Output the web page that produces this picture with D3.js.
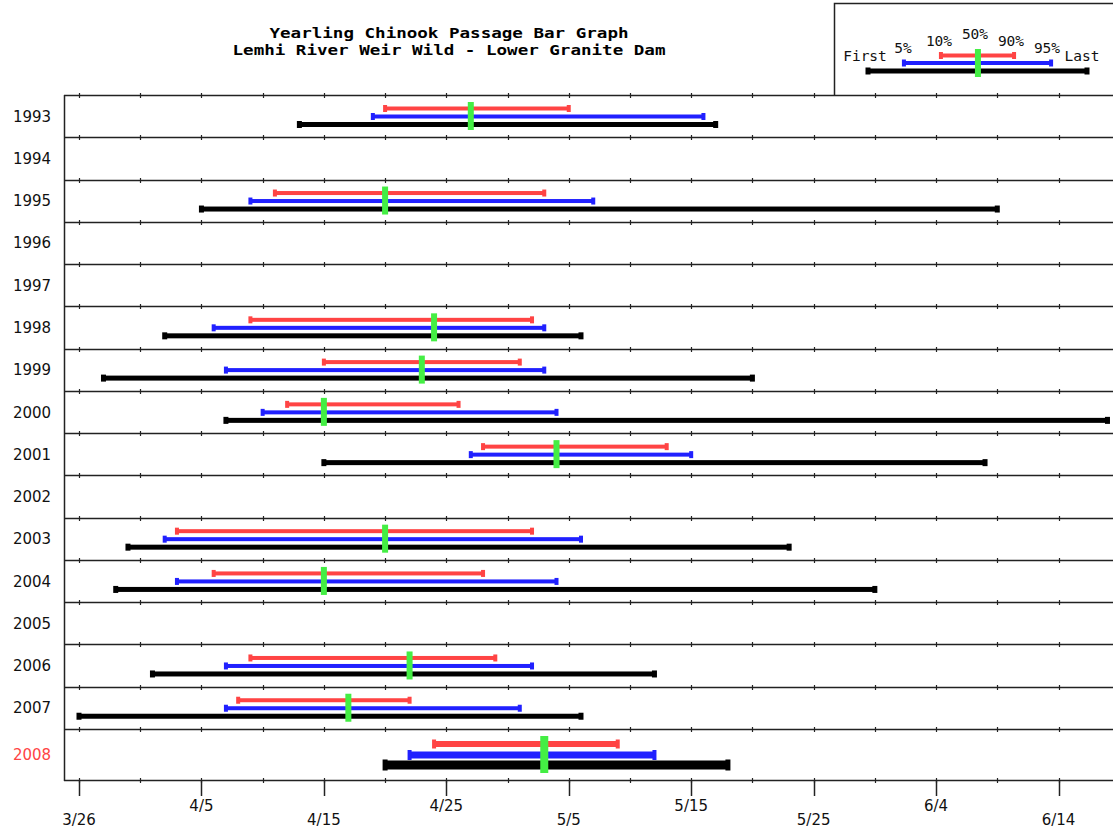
<!DOCTYPE html>
<html>
<head>
<meta charset="utf-8">
<script src="https://cdn.jsdelivr.net/npm/d3@7"></script>
<style>
  html, body { margin: 0; padding: 0; background: #fff; }
  svg { display: block; }
</style>
</head>
<body>
<div id="chart"></div>
<script>
// ---- data ----
const years = [1993, 1994, 1995, 1996, 1997, 1998, 1999, 2000, 2001, 2002, 2003, 2004, 2005, 2006, 2007, 2008];
const firstDay = ["4/13", null, "4/5", null, null, "4/2", "3/28", "4/7", "4/15", null, "3/30", "3/29", null, "4/1", "3/26", "4/20"];
const pct5     = ["4/19", null, "4/9", null, null, "4/6", "4/7", "4/10", "4/27", null, "4/2", "4/3", null, "4/7", "4/7", "4/22"];
const pct10    = ["4/20", null, "4/11", null, null, "4/9", "4/15", "4/12", "4/28", null, "4/3", "4/6", null, "4/9", "4/8", "4/24"];
const pct50    = ["4/27", null, "4/20", null, null, "4/24", "4/23", "4/15", "5/4", null, "4/20", "4/15", null, "4/22", "4/17", "5/3"];
const pct90    = ["5/5", null, "5/3", null, null, "5/2", "5/1", "4/26", "5/13", null, "5/2", "4/28", null, "4/29", "4/22", "5/9"];
const pct95    = ["5/16", null, "5/7", null, null, "5/3", "5/3", "5/4", "5/15", null, "5/6", "5/4", null, "5/2", "5/1", "5/12"];
const lastDay  = ["5/17", null, "6/9", null, null, "5/6", "5/20", "6/18", "6/8", null, "5/23", "5/30", null, "5/12", "5/6", "5/18"];
const tickLabels = ["3/26", "4/5", "4/15", "4/25", "5/5", "5/15", "5/25", "6/4", "6/14"];
const currentYear = 2008;
const titleLines = ["Yearling Chinook Passage Bar Graph", "Lemhi River Weir Wild - Lower Granite Dam"];
const legendLabels = ["First", "5%", "10%", "50%", "90%", "95%", "Last"];
const legendValues = [0, 16.4, 33.3, 50.2, 66.7, 83.6, 100];

// ---- setup ----
const W = 1113, H = 831;
const pd = s => { const [m, d] = s.split("/").map(Number); return new Date(2001, m - 1, d); };

const svg = d3.select("#chart").append("svg").attr("width", W).attr("height", H);

const x = d3.scaleTime().domain([pd("3/26"), pd("6/14")]).range([79, 1058.5]);
const plotL = 64, plotR = W, plotT = 95, plotB = 780;

const normalYears = years.filter(y => y !== currentYear);
const yBand = d3.scaleBand().domain(normalYears).range([plotT, 729]);
function rowTop(y) { return y === currentYear ? 729 : yBand(y); }
function rowH(y) { return y === currentYear ? plotB - 729 : yBand.bandwidth(); }

const RED = "#ff4444", BLUE = "#2020ff", BLACK = "#000", GREEN = "#44ee44";
const lineColor = "#222";

const tickDates = d3.range(-5, 90, 5).map(k => d3.timeDay.offset(pd("3/26"), k))
  .filter(d => x(d) >= plotL && x(d) <= plotR);
const majorDates = tickLabels.map(pd);

// ---- row lines with ticks ----
const boundaries = years.map(rowTop).concat([plotB]).map(Math.round);
const g = svg.append("g");
boundaries.forEach(by => {
  g.append("line").attr("x1", plotL).attr("x2", plotR).attr("y1", by + 0.5).attr("y2", by + 0.5)
    .attr("stroke", lineColor).attr("stroke-width", 1.5);
  g.selectAll(null).data(tickDates).enter().append("line")
    .attr("x1", d => Math.round(x(d)) + 0.5).attr("x2", d => Math.round(x(d)) + 0.5)
    .attr("y1", by - 2).attr("y2", by + 3)
    .attr("stroke", lineColor).attr("stroke-width", 1.2);
});
g.append("line").attr("x1", plotL + 0.5).attr("x2", plotL + 0.5).attr("y1", plotT).attr("y2", plotB + 1)
  .attr("stroke", lineColor).attr("stroke-width", 1.5);

g.selectAll(null).data(majorDates).enter().append("line")
  .attr("x1", d => Math.round(x(d)) + 0.5).attr("x2", d => Math.round(x(d)) + 0.5)
  .attr("y1", plotB).attr("y2", plotB + 16)
  .attr("stroke", lineColor).attr("stroke-width", 1.5);

svg.selectAll(null).data(tickLabels).enter().append("text")
  .attr("x", d => x(pd(d)))
  .attr("y", (d, i) => i % 2 === 0 ? 825 : 811)
  .attr("text-anchor", "middle")
  .attr("font-family", "DejaVu Sans, sans-serif")
  .attr("font-size", "15px")
  .attr("fill", "#111")
  .text(d => d);

svg.selectAll(null).data(years).enter().append("text")
  .attr("x", 32)
  .attr("y", y => rowTop(y) + rowH(y) / 2 + 5.5)
  .attr("text-anchor", "middle")
  .attr("font-family", "DejaVu Sans, sans-serif")
  .attr("font-size", "15px")
  .attr("fill", y => y === currentYear ? RED : "#111")
  .text(y => y);

// ---- bars ----
function drawBar(parent, x1, x2, cy, thick, capW, capH, color) {
  parent.append("rect").attr("x", x1).attr("y", cy - thick / 2).attr("width", x2 - x1).attr("height", thick).attr("fill", color);
  parent.append("rect").attr("x", x1 - capW / 2).attr("y", cy - capH / 2).attr("width", capW).attr("height", capH).attr("fill", color);
  parent.append("rect").attr("x", x2 - capW / 2).attr("y", cy - capH / 2).attr("width", capW).attr("height", capH).attr("fill", color);
}

const bars = svg.append("g");
years.forEach((yr, i) => {
  if (!firstDay[i]) return;
  const top = rowTop(yr);
  const cur = yr === currentYear;
  const sp = cur
    ? { r: 15, b: 26, k: 36, rt: 6, bt: 7, kt: 9, rc: 9, bc: 10, kc: 11, cw: 4, gt: 7, gb: 44, gw: 8 }
    : { r: 13.5, b: 21.5, k: 29.5, rt: 4, bt: 4, kt: 5, rc: 7, bc: 7, kc: 7, cw: 4, gt: 7, gb: 35, gw: 6 };
  drawBar(bars, x(pd(pct10[i])), x(pd(pct90[i])), top + sp.r, sp.rt, sp.cw, sp.rc, RED);
  drawBar(bars, x(pd(pct5[i])), x(pd(pct95[i])), top + sp.b, sp.bt, sp.cw, sp.bc, BLUE);
  drawBar(bars, x(pd(firstDay[i])), x(pd(lastDay[i])), top + sp.k, sp.kt, sp.cw + 1, sp.kc, BLACK);
  bars.append("rect")
    .attr("x", x(pd(pct50[i])) - sp.gw / 2).attr("y", top + sp.gt)
    .attr("width", sp.gw).attr("height", sp.gb - sp.gt).attr("fill", GREEN);
});

// ---- title ----
svg.selectAll(null).data(titleLines).enter().append("text")
  .attr("x", 449)
  .attr("y", (d, i) => i === 0 ? 38 : 55)
  .attr("text-anchor", "middle")
  .attr("font-family", "DejaVu Sans Mono, monospace")
  .attr("font-weight", "bold")
  .attr("font-size", "14px")
  .attr("textLength", d => d.length * 10.56)
  .attr("lengthAdjust", "spacingAndGlyphs")
  .attr("fill", "#000")
  .text(d => d);

// ---- legend ----
const lg = svg.append("g");
lg.append("path").attr("d", "M834.5,96 V3.5 H1113")
  .attr("fill", "none").attr("stroke", lineColor).attr("stroke-width", 1.5);
const lx = d3.scaleLinear().domain([0, 100]).range([868, 1087]);
drawBar(lg, lx(legendValues[2]), lx(legendValues[4]), 55.5, 4, 4, 7, RED);
drawBar(lg, lx(legendValues[1]), lx(legendValues[5]), 63, 4, 4, 7, BLUE);
drawBar(lg, lx(legendValues[0]), lx(legendValues[6]), 71, 5, 5, 7, BLACK);
lg.append("rect").attr("x", lx(legendValues[3]) - 3).attr("y", 49).attr("width", 6).attr("height", 28).attr("fill", GREEN);

const legPos = [
  { x: 865, y: 61 }, { x: 903, y: 53 }, { x: 939, y: 46 }, { x: 975, y: 39 },
  { x: 1011, y: 46 }, { x: 1047, y: 53 }, { x: 1082, y: 61 }
];
lg.selectAll(null).data(legendLabels).enter().append("text")
  .attr("x", (d, i) => legPos[i].x)
  .attr("y", (d, i) => legPos[i].y)
  .attr("text-anchor", "middle")
  .attr("font-family", "DejaVu Sans Mono, monospace")
  .attr("font-size", "14.5px")
  .attr("fill", "#111")
  .text(d => d);
</script>
</body>
</html>
